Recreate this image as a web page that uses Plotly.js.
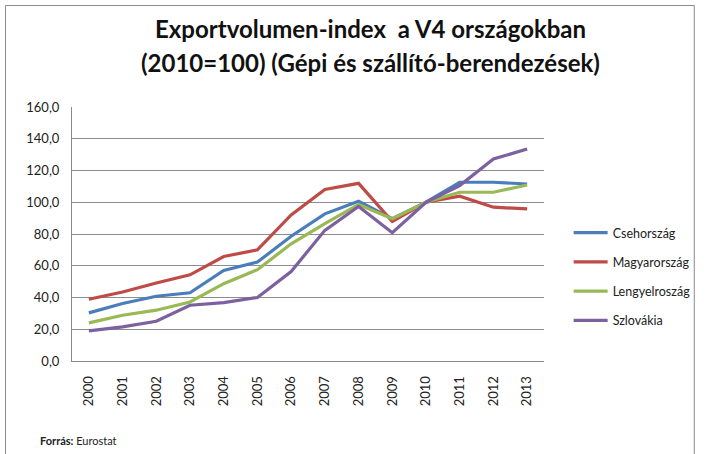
<!DOCTYPE html>
<html><head><meta charset="utf-8">
<script src="https://cdn.plot.ly/plotly-3.0.1.min.js"></script>
<style>body{margin:0;padding:0;background:#fff}#chart{width:708px;height:454px}</style>
</head><body><div id="chart"></div>
<script>
const years = ['2000','2001','2002','2003','2004','2005','2006','2007','2008','2009','2010','2011','2012','2013'];
const cseh = [30.3,36.2,40.8,43.0,57.0,62.3,78.6,92.7,100.6,89.6,100,112.6,112.6,111.5];
const magyar = [38.9,43.5,49.1,54.3,65.8,70.0,92.0,108.0,111.9,87.9,100,103.8,96.9,95.8];
const lengyel = [24.0,28.8,32.0,37.2,48.7,57.5,73.8,86.5,98.6,89.6,100,106.3,106.3,110.9];
const szlovak = [19.0,21.5,25.0,35.1,36.8,40.0,56.4,82.3,97.3,80.8,100,110.5,127.2,133.5];
const names = ['Csehország','Magyarország','Lengyelroszág','Szlovákia'];
const colors = ['#4a7ebb','#be4b48','#98b954','#7d60a0'];
const series = [cseh, magyar, lengyel, szlovak];
const titleLines = ['Exportvolumen-index  a V4 országokban','(2010=100) (Gépi és szállító-berendezések)'];

const FONT = 'Lato, "Liberation Sans Narrow", sans-serif';
const traces = series.map((s,i)=>({
  x: years, y: s, type:'scatter', mode:'lines', name: names[i],
  legendgroup: 'g'+i,
  line:{color:colors[i], width:3.2}
}));

const L=72, R=551, T=107, B=361, W=708, H=454;
const pw = R-L, ph = B-T;
const px = x => (x-L)/pw;
const py = y => (B-y)/ph;

const layout = {
  width: W, height: H,
  margin:{l:L, r:W-R, t:T, b:H-B, pad:0},
  paper_bgcolor:'#fff', plot_bgcolor:'#fff',
  separators: ', ',
  font:{family:FONT, color:'#222', size:13},
  xaxis:{type:'category', range:[-0.5,13.5], tickangle:-90, showgrid:false, showline:true, linecolor:'#888', linewidth:1,
    ticks:'', ticklabelstandoff:9, tickfont:{size:13, color:'#222'}, zeroline:false, fixedrange:true},
  yaxis:{range:[0,160], dtick:20, tickformat:'.1f', showgrid:true, gridcolor:'#8c8c8c', gridwidth:1,
    showline:true, linecolor:'#888', linewidth:1, ticks:'', ticklabelstandoff:9, tickfont:{size:13, color:'#222'},
    zeroline:false, fixedrange:true},
  showlegend:true,
  legend:{x:px(576), y:py(218), xanchor:'left', yanchor:'top', font:{size:12.5, color:'#222'},
    tracegroupgap:10, itemwidth:34, bgcolor:'rgba(0,0,0,0)'},
  shapes:[
    {type:'rect', xref:'paper', yref:'paper', x0:px(4.5), x1:px(703.5), y0:py(470), y1:py(5.5),
     line:{color:'#8c8c8c', width:1}, fillcolor:'rgba(0,0,0,0)'}
  ],
  annotations:[
    {text:'<b>'+titleLines[0]+'</b>', xref:'paper', yref:'paper', x:px(375), y:py(28), xanchor:'center', yanchor:'middle',
     showarrow:false, font:{size:24, color:'#111'}},
    {text:'<b>'+titleLines[1]+'</b>', xref:'paper', yref:'paper', x:px(375), y:py(62), xanchor:'center', yanchor:'middle',
     showarrow:false, font:{size:24, color:'#111'}},
    {text:'<b>Forrás:</b> Eurostat', xref:'paper', yref:'paper', x:px(37), y:py(440), xanchor:'left', yanchor:'middle',
     showarrow:false, font:{size:11, color:'#222'}}
  ]
};
Plotly.newPlot('chart', traces, layout, {displayModeBar:false, staticPlot:true});
</script></body></html>
